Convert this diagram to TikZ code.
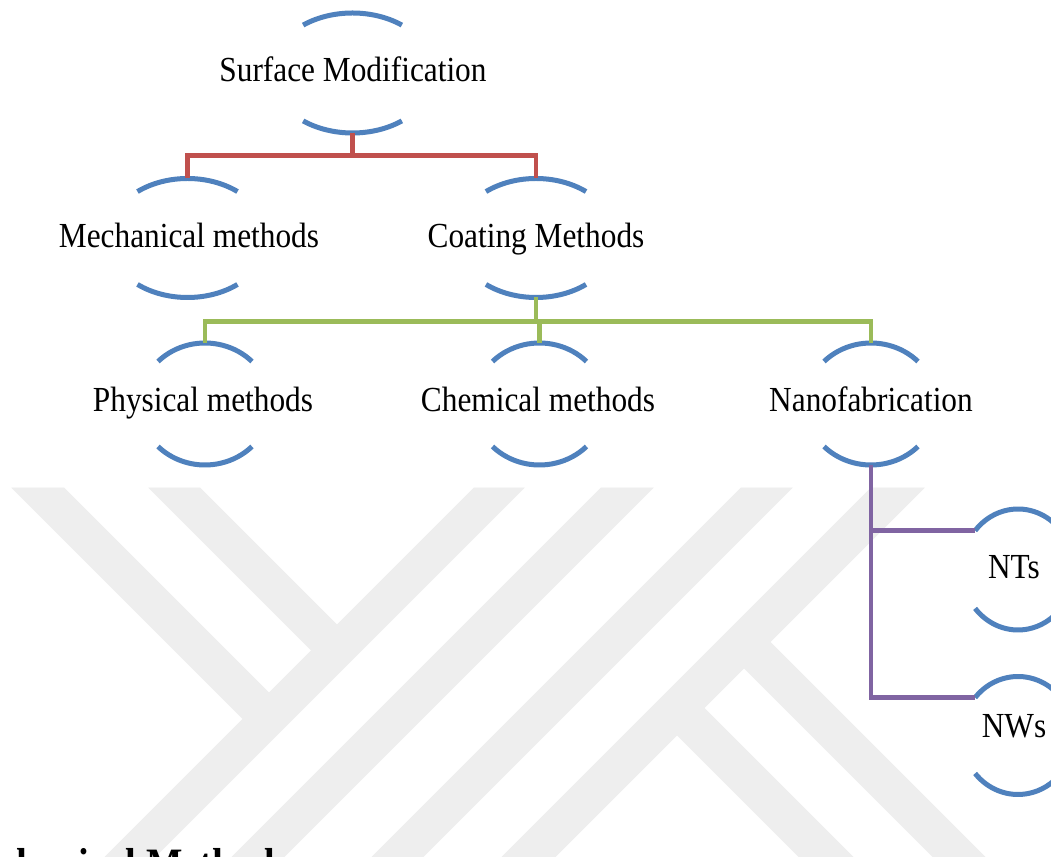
\documentclass[tikz,border=0pt]{standalone}
\usepackage{fontspec}
\usetikzlibrary{calc}
\newfontfamily\diagfont[FakeStretch=0.89]{Liberation Serif}
\definecolor{arcblue}{RGB}{79,129,189}
\definecolor{linered}{RGB}{192,80,77}
\definecolor{linegreen}{RGB}{155,187,89}
\definecolor{linepurple}{RGB}{128,100,162}
\definecolor{wmgray}{RGB}{238,238,238}
\tikzset{
  arcline/.style={draw=arcblue,line width=3.75pt},
  redline/.style={draw=linered,line width=3.4pt},
  greenline/.style={draw=linegreen,line width=3.4pt},
  purpleline/.style={draw=linepurple,line width=3.4pt},
  wmband/.style={fill=wmgray,draw=wmgray,line width=0.5pt},
  lbl/.style={anchor=base,inner sep=0pt,font=\diagfont\fontsize{26.4}{30}\selectfont},
  headtxt/.style={anchor=base east,inner sep=0pt,font=\diagfont\bfseries\fontsize{32.5}{36}\selectfont}
}
% #1 name, #2 centre, #3 x radius, #4 y radius, #5 angle of arc end
\newcommand\arcpairnode[5]{%
  \coordinate (#1) at (#2);
  \coordinate (#1T) at ($(#1)+(0,#4)$);
  \coordinate (#1B) at ($(#1)+(0,-#4)$);
  \coordinate (#1L) at ($(#1)+(180-#5:#3 and #4)$);
  \draw[arcline] ($(#1)+(#5:#3 and #4)$) arc[start angle=#5, end angle=180-#5, x radius=#3, y radius=#4];
  \draw[arcline] ($(#1)+(180+#5:#3 and #4)$) arc[start angle=180+#5, end angle=360-#5, x radius=#3, y radius=#4];
}
\begin{document}
\begin{tikzpicture}[x=0.75pt,y=0.75pt]
\useasboundingbox (0,0) rectangle (1051,857);
\clip (0,0) rectangle (1051,857);
\fill[white] (0,0) rectangle (1051,857);
% watermark
\fill[wmband] (474,369) -- (524,369) -- (155,0) -- (105,0) -- cycle;
\fill[wmband] (601,369) -- (653,369) -- (284,0) -- (232,0) -- cycle;
\fill[wmband] (741,369) -- (792,369) -- (423,0) -- (372,0) -- cycle;
\fill[wmband] (871,369) -- (924,369) -- (555,0) -- (502,0) -- cycle;
\fill[wmband] (12,369) -- (64,369) -- (269,164) -- (243,138) -- cycle;
\fill[wmband] (149,369) -- (200,369) -- (337,232) -- (311.5,206.5) -- cycle;
\fill[wmband] (770,215) -- (985,0) -- (933,0) -- (744,189) -- cycle;
\fill[wmband] (704,149) -- (853,0) -- (799,0) -- (677,122) -- cycle;
% arcs
\arcpairnode{sm}{352.5,784}{82}{60}{53}
\arcpairnode{mm}{187.5,619}{80}{59.5}{51.3}
\arcpairnode{cm}{536,619}{80}{59.5}{51.3}
\arcpairnode{pm}{205,453}{65.5}{61}{44.2}
\arcpairnode{ch}{539.5,453}{65.5}{61}{44.2}
\arcpairnode{nf}{871,453}{65.5}{61}{44.2}
\arcpairnode{nt}{1018,287.5}{56}{60.5}{40}
\arcpairnode{nw}{1018,121.5}{56}{59}{40}
% labels
\node[lbl] (smtext) at (353,775) {Surface Modification};
\node[lbl] (mmtext) at (189,609) {Mechanical methods};
\node[lbl] (cmtext) at (536,609) {Coating Methods};
\node[lbl] (pmtext) at (203,445) {Physical methods};
\node[lbl] (chtext) at (538,445) {Chemical methods};
\node[lbl] (nftext) at (871,445) {Nanofabrication};
\node[lbl] (nttext) at (1014,278) {NTs};
\node[lbl] (nwtext) at (1014,119) {NWs};
% connectors
\draw[redline] (smB) -- ++(0,-22.5);
\draw[redline] (mmT) -- ++(0,23) -| (cmT);
\draw[greenline] (cmB) -- ++(0,-24);
\draw[greenline] (pmT) -- ++(0,21.5) -| (nfT);
\draw[greenline] (chT) -- ++(0,21.5);
\draw[purpleline] (nfB) |- (nwL);
\draw[purpleline] (nfB |- ntL) -- (ntL);
% heading cut by the page edge
\node[headtxt] (head) at (290,-22) {Mechanical Methods};
\end{tikzpicture}
\end{document}
